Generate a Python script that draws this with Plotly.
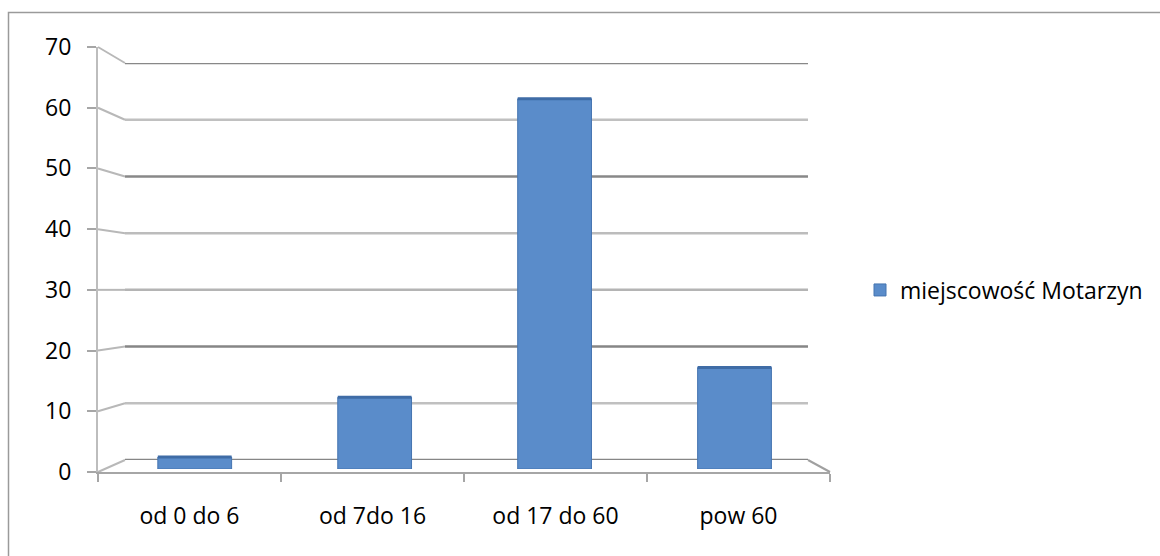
import plotly.graph_objects as go

# ---- data ----
categories = ["od 0 do 6", "od 7do 16", "od 17 do 60", "pow 60"]
values = [2, 12, 62, 17]
series_name = "miejscowość Motarzyn"
y_ticks = [0, 10, 20, 30, 40, 50, 60, 70]
grid_colors = ["#868686", "#c0c0c0", "#868686", "#b4b4b4", "#bcbcbc", "#888888", "#c0c0c0", "#888888"]

W, H = 1160, 556
FONT = "Open Sans"
FS = 23
YMAX = 70
BAR_W = 0.41

def px_x(p):
    return p / W

def px_y(p):
    return 1 - p / H

# front (axis) plane, back wall plane, and the bars' face plane (between them)
front_x = [px_x(98), px_x(830)]
front_y = [px_y(472), px_y(47)]
back_x = [px_x(125), px_x(808)]
back_y = [px_y(460), px_y(63)]
DEPTH = 0.25
face_x = [front_x[i] + DEPTH * (back_x[i] - front_x[i]) for i in range(2)]
face_y = [front_y[i] + DEPTH * (back_y[i] - front_y[i]) for i in range(2)]

def dom_map(v, dom):
    return dom[0] + (dom[1] - dom[0]) * v / YMAX

bar_px_half = BAR_W * (face_x[1] - face_x[0]) * W / len(categories) / 2

fig = go.Figure()
fig.add_trace(go.Bar(
    x=categories, y=values, name=series_name, xaxis="x3", yaxis="y3",
    marker=dict(color="#5A8CCA", line=dict(color="#4574B0", width=1)),
    width=BAR_W, showlegend=True, hoverinfo="skip",
    error_y=dict(type="constant", value=0, symmetric=True, color="#3F6CA6",
                 thickness=3, width=bar_px_half),
))
# invisible traces instantiating the front axis and the back-wall axes
fig.add_trace(go.Scatter(x=categories, y=values, mode="markers", marker=dict(opacity=0),
                         showlegend=False, hoverinfo="skip"))
fig.add_trace(go.Scatter(x=[0], y=[0], xaxis="x2", yaxis="y2", mode="markers",
                         marker=dict(opacity=0), showlegend=False, hoverinfo="skip"))

shapes = []
for v, c in zip(y_ticks, grid_colors):
    shapes.append(dict(type="line", xref="x2 domain", yref="y2", x0=0, x1=1, y0=v, y1=v,
                       line=dict(color=c, width=2.5), layer="below"))
    shapes.append(dict(type="line", xref="paper", yref="paper",
                       x0=front_x[0], y0=dom_map(v, front_y),
                       x1=back_x[0], y1=dom_map(v, back_y),
                       line=dict(color="#b8b8b8", width=2), layer="below"))
shapes.append(dict(type="line", xref="paper", yref="paper",
                   x0=back_x[1], y0=dom_map(0, back_y), x1=front_x[1], y1=dom_map(0, front_y),
                   line=dict(color="#a0a0a0", width=2), layer="below"))
shapes.append(dict(type="rect", xref="paper", yref="paper",
                   x0=px_x(8.5), y0=-0.2, x1=1.2, y1=px_y(12.5),
                   line=dict(color="#9a9a9a", width=1.5), fillcolor="rgba(0,0,0,0)", layer="below"))

fig.update_layout(
    width=W, height=H, autosize=False,
    margin=dict(l=0, r=0, t=0, b=0, pad=0, autoexpand=False),
    paper_bgcolor="white", plot_bgcolor="rgba(0,0,0,0)",
    font=dict(family=FONT, size=FS, color="#000000"),
    shapes=shapes,
    showlegend=True,
    legend=dict(x=px_x(860), y=px_y(290), xanchor="left", yanchor="middle",
                font=dict(family=FONT, size=FS, color="#000000"),
                bgcolor="rgba(0,0,0,0)"),
    xaxis=dict(domain=front_x, anchor="y", type="category", range=[-0.5, 3.5], automargin=False,
               categoryorder="array", categoryarray=categories,
               showline=True, linecolor="#a6a6a6", linewidth=2,
               ticks="outside", tickson="boundaries", ticklen=8, tickcolor="#a6a6a6", tickwidth=2,
               showgrid=False, tickfont=dict(family=FONT, size=FS), ticklabelstandoff=22),
    yaxis=dict(domain=front_y, anchor="x", range=[0, YMAX], tickvals=y_ticks, automargin=False,
               showline=True, linecolor="#bdbdbd", linewidth=2,
               ticks="outside", ticklen=9, tickcolor="#a6a6a6", tickwidth=2,
               showgrid=False, zeroline=False, tickfont=dict(family=FONT, size=FS),
               ticklabelstandoff=11),
    xaxis2=dict(domain=back_x, anchor="y2", range=[0, 1], visible=False, automargin=False),
    yaxis2=dict(domain=back_y, anchor="x2", range=[0, YMAX], visible=False, automargin=False),
    xaxis3=dict(domain=face_x, anchor="y3", type="category", range=[-0.5, 3.5],
                categoryorder="array", categoryarray=categories, visible=False, automargin=False),
    yaxis3=dict(domain=face_y, anchor="x3", range=[0, YMAX], visible=False, automargin=False),
)

fig.write_html("out.html", config={"displayModeBar": False},
               post_script="document.body.style.margin='0';document.body.style.overflow='hidden';")
